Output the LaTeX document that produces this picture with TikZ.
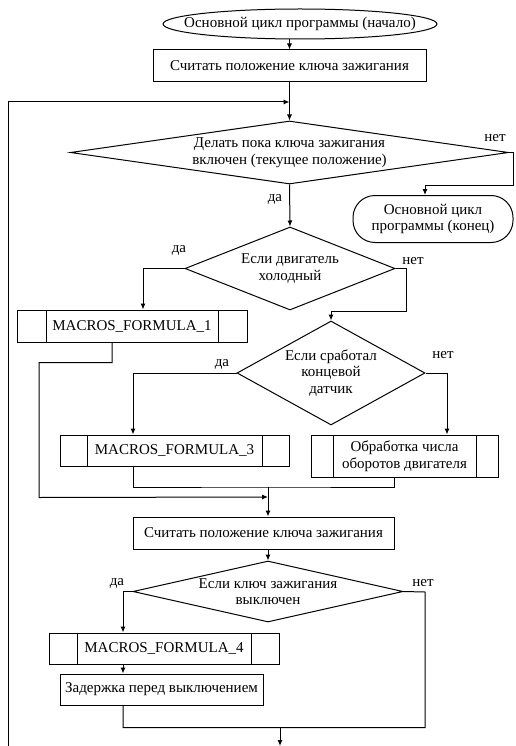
\documentclass[tikz,border=0pt]{standalone}
\usepackage{fontspec}
\setmainfont{Liberation Serif}
\usetikzlibrary{shapes.geometric,arrows.meta}
\tikzset{
  every node/.style={font=\fontsize{15}{16.5}\selectfont},
  proc/.style={draw, align=center, inner sep=0pt},
  subproc/.style={draw, inner sep=0pt, path picture={
    \draw ([xshift=#1]path picture bounding box.north west) -- ([xshift=#1]path picture bounding box.south west);
    \draw ([xshift=-#1]path picture bounding box.north east) -- ([xshift=-#1]path picture bounding box.south east);}},
  subproc/.default=28pt,
  dec/.style={diamond, draw, align=center, inner sep=-3pt},
  term/.style={draw, rounded corners=22pt, align=center},
  arr/.style={-{Latex[length=6pt,width=5pt]}},
}
\begin{document}
\begin{tikzpicture}[x=1pt,y=-1pt,line width=1pt]
\useasboundingbox (0,0) rectangle (515,746);
\node[draw,ellipse,inner xsep=-32pt,inner ysep=0pt,minimum width=274pt,minimum height=30pt] (start) at (300,24) {Основной цикл программы (начало)};
\node[proc,minimum width=273pt,minimum height=32pt] (read1) at (289.5,66) {Считать положение ключа зажигания};
\node[dec,minimum width=438pt,minimum height=63pt,aspect=6.95] (dia1) at (289.5,152.5) {Делать пока ключа зажигания\\включен (текущее положение)};
\node[term,minimum width=160pt,minimum height=47pt] (stop) at (433,219) {Основной цикл\\программы (конец)};
\node[dec,minimum width=210pt,minimum height=83pt,aspect=2.53] (dia2) at (290,268.5) {Если двигатель\\холодный};
\node[subproc=29pt,minimum width=230pt,minimum height=32pt] (mf1) at (132,326) {MACROS\_FORMULA\_1};
\node[dec,minimum width=188pt,minimum height=104pt,aspect=1.81] (dia3) at (331,373) {Если сработал\\концевой\\датчик};
\node[subproc=27pt,minimum width=229pt,minimum height=31pt] (mf3) at (174.5,450.5) {MACROS\_FORMULA\_3};
\node[subproc=22pt,minimum width=187pt,minimum height=42pt,align=center] (obr) at (404.5,456) {Обработка числа\\оборотов двигателя};
\node[proc,minimum width=261pt,minimum height=32pt] (read2) at (263.5,533) {Считать положение ключа зажигания};
\node[dec,minimum width=270pt,minimum height=61pt,aspect=4.43] (dia4) at (268,591.5) {Если ключ зажигания\\выключен};
\node[subproc=28pt,minimum width=230pt,minimum height=31pt] (mf4) at (164,648.5) {MACROS\_FORMULA\_4};
\node[proc,minimum width=203pt,minimum height=31pt] (zad) at (161.5,689.5) {Задержка перед выключением};
\node (yes1) at (275,199) {да};
\node (no1) at (495,138) {нет};
\node (yes2) at (179,250) {да};
\node (no2) at (413,261) {нет};
\node (yes3) at (222,364) {да};
\node (no3) at (443,355) {нет};
\node (yes4) at (117,583) {да};
\node (no4) at (423,583) {нет};
\coordinate (back) at (8,746);
\coordinate (join) at (268,487);
\coordinate (next) at (280,746);
\draw[arr] (read1.north |- start.south) -- (read1.north);
\draw[arr] (read1.south) -- (dia1.north);
\draw[arr] (back) |- (read1.south |- 0,102);
\draw[arr] (dia1.east) -- ++(4,0) -- ++(0,32.5) -| ([xshift=-8pt]stop.north);
\draw[arr] (dia1.south) -- (dia2.north);
\draw[arr] (dia2.west) -| ([xshift=11pt]mf1.north);
\draw[arr] (dia2.east) -- ++(11,0) -- ++(0,43) -| (dia3.north);
\draw[arr] ([xshift=-20pt]mf1.south) -- ++(0,20) -| ++(-73,135) -- (join |- 0,497);
\draw[arr] (dia3.west) -| ([xshift=-41.5pt]mf3.north);
\draw[arr] (dia3.east) -| ([xshift=42.5pt]obr.north);
\draw ([xshift=-41.5pt]mf3.south) |- (join) -| ([xshift=-10.5pt]obr.south);
\draw[arr] (join) -- (join |- read2.north);
\draw[arr] (read2.south -| dia4.north) -- (dia4.north);
\draw[arr] (dia4.west) -| ([xshift=-41pt]mf4.north);
\draw[arr] ([xshift=-41pt]mf4.south) -- ([xshift=-38.5pt]zad.north);
\draw ([xshift=-38.5pt]zad.south) -- ++(0,22) -| ++(302,-135.5) -- (dia4.east);
\draw[arr] (next |- 0,727) -- (next);
\end{tikzpicture}
\end{document}
